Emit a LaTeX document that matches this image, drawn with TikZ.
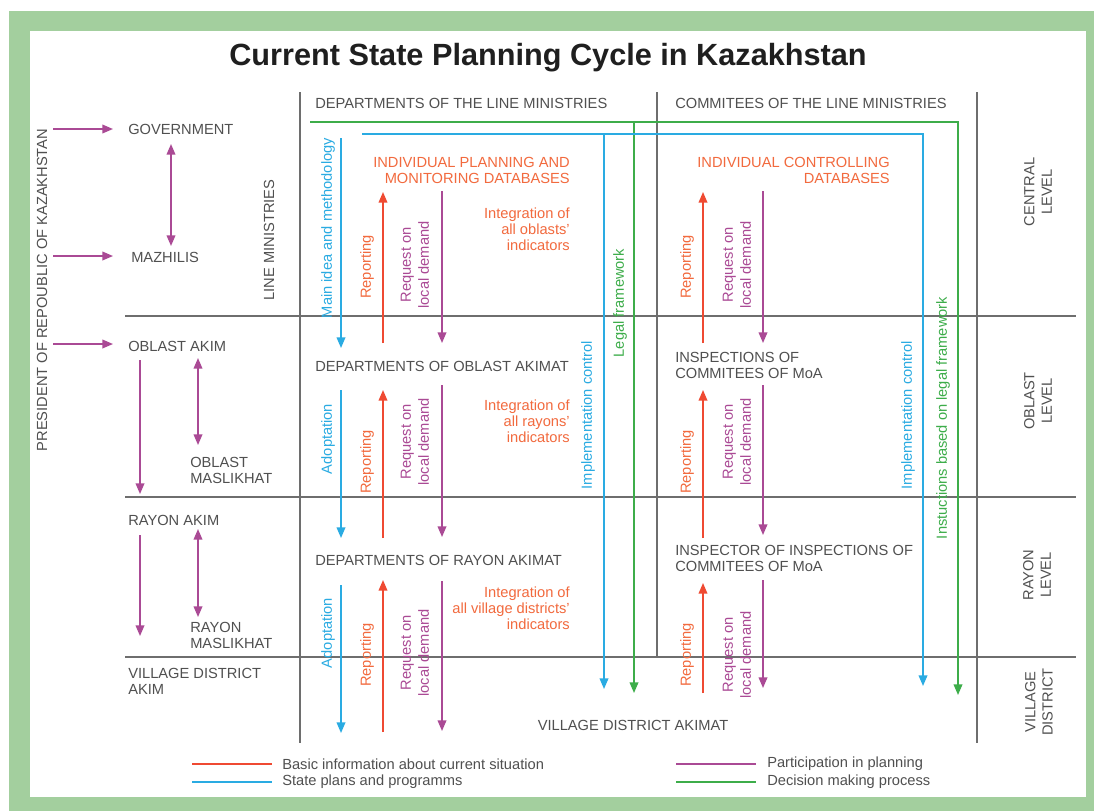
\documentclass[tikz,border=0pt]{standalone}
\usepackage{fontspec}
\setmainfont{Liberation Sans}
\usetikzlibrary{arrows.meta}
\definecolor{gframe}{HTML}{A3CF9E}
\definecolor{gline}{HTML}{6E6E6E}
\definecolor{gtext}{HTML}{505050}
\definecolor{cred}{HTML}{EF4A32}
\definecolor{ctxt}{HTML}{F26A3E}
\definecolor{cblue}{HTML}{2AABE2}
\definecolor{cgreen}{HTML}{3DAD4A}
\definecolor{cpurp}{HTML}{AA4A95}
\begin{document}
\begin{tikzpicture}[x=0.75pt,y=-0.75pt,
  txt/.style={inner sep=0pt, text=gtext, font=\fontsize{11}{12}\selectfont},
  rtxt/.style={txt, text=ctxt},
  btxt/.style={txt, text=cblue, rotate=90},
  gtxt/.style={txt, text=cgreen, rotate=90},
  ptxt/.style={txt, text=cpurp, rotate=90, align=center, font=\fontsize{11}{13.5}\selectfont},
  reptxt/.style={txt, text=ctxt, rotate=90},
  gridline/.style={draw=gline, line width=1.2pt},
  tip/.style={-{Triangle[length=8pt,width=6.5pt]}},
  dtip/.style={{Triangle[length=8pt,width=6.5pt]}-{Triangle[length=8pt,width=6.5pt]}},
  purpar/.style={draw=cpurp, line width=1.2pt},
  redar/.style={draw=cred, line width=1.2pt},
  bluear/.style={draw=cblue, line width=1.2pt},
  greenar/.style={draw=cgreen, line width=1.2pt},
]
\useasboundingbox (0,0) rectangle (1094,811);
% frame
\fill[white] (0,0) rectangle (1094,811);
\fill[gframe] (9,11) rectangle (1094,811);
\fill[white] (30,31) rectangle (1086,797);

% grid
\draw[gridline] (300,92) -- (300,743);
\draw[gridline] (657,92) -- (657,657);
\draw[gridline] (977,92) -- (977,743);
\draw[gridline] (125,316) -- (1076,316);
\draw[gridline] (125,497) -- (1076,497);
\draw[gridline] (125,657) -- (1076,657);

% title
\node[inner sep=0pt, text=black!88, font=\fontsize{23}{27}\selectfont\bfseries] (title) at (548,58) {Current State Planning Cycle in Kazakhstan};

% headers and left labels
\node[txt, anchor=west] (dlm) at (315,103) {DEPARTMENTS OF THE LINE MINISTRIES};
\node[txt, anchor=west] (clm) at (675,103) {COMMITEES OF THE LINE MINISTRIES};
\node[txt, anchor=west] (gov) at (128,129) {GOVERNMENT};
\node[txt, anchor=west] (maz) at (131,257) {MAZHILIS};
\node[txt, rotate=90] (lm) at (269,240) {LINE MINISTRIES};
\node[txt, rotate=90] (pres) at (42,290) {PRESIDENT OF REPOUBLIC OF KAZAKHSTAN};
\node[txt, anchor=west] (oak) at (128,346) {OBLAST AKIM};
\node[txt, anchor=west, align=left] (omas) at (190,470) {OBLAST\\MASLIKHAT};
\node[txt, anchor=west] (rak) at (128,520) {RAYON AKIM};
\node[txt, anchor=west, align=left] (rmas) at (190,635) {RAYON\\MASLIKHAT};
\node[txt, anchor=west, align=left] (vak) at (128,681) {VILLAGE DISTRICT\\AKIM};

% level labels
\node[txt, rotate=90, align=center, font=\fontsize{11}{13}\selectfont] (lc) at (1038,192) {CENTRAL\\LEVEL};
\node[txt, rotate=90, align=center, font=\fontsize{11}{13}\selectfont] (lo) at (1038,401) {OBLAST\\LEVEL};
\node[txt, rotate=90, align=center, font=\fontsize{11}{13}\selectfont] (lr) at (1037,575) {RAYON\\LEVEL};
\node[txt, rotate=90, align=center, font=\fontsize{11}{13}\selectfont] (lv) at (1039,702) {VILLAGE\\DISTRICT};

% central column texts
\node[rtxt, anchor=east, align=right] (ipm) at (570,170) {INDIVIDUAL PLANNING AND\\MONITORING DATABASES};
\node[rtxt, anchor=east, align=right] (int1) at (570,229) {Integration of\\all oblasts'\\indicators};
\node[txt, anchor=west] (doa) at (315,366) {DEPARTMENTS OF OBLAST AKIMAT};
\node[rtxt, anchor=east, align=right] (int2) at (570,421) {Integration of\\all rayons'\\indicators};
\node[txt, anchor=west] (dra) at (315,560) {DEPARTMENTS OF RAYON AKIMAT};
\node[rtxt, anchor=east, align=right] (int3) at (570,608) {Integration of\\all village districts'\\indicators};
\node[txt] (vda) at (633,725) {VILLAGE DISTRICT AKIMAT};

% right column texts
\node[rtxt, anchor=east, align=right] (icd) at (890,170) {INDIVIDUAL CONTROLLING\\DATABASES};
\node[txt, anchor=west, align=left] (ico) at (675,365) {INSPECTIONS OF\\COMMITEES OF MoA};
\node[txt, anchor=west, align=left] (iio) at (675,558) {INSPECTOR OF INSPECTIONS OF\\COMMITEES OF MoA};

% rotated arrow labels
\node[btxt] (lmain) at (328,228) {Main idea and methodology};
\node[btxt] (lad1) at (328,439) {Adoptation};
\node[btxt] (lad2) at (328,633) {Adoptation};
\node[reptxt] (lrep1) at (367,267) {Reporting};
\node[reptxt] (lrep2) at (367,462) {Reporting};
\node[reptxt] (lrep3) at (367,655) {Reporting};
\node[ptxt] (lreq1) at (415,265) {Request on\\local demand};
\node[ptxt] (lreq2) at (415,442) {Request on\\local demand};
\node[ptxt] (lreq3) at (415,653) {Request on\\local demand};
\node[btxt] (limp1) at (588,415) {Implementation control};
\node[btxt] (limp2) at (908,415) {Implementation control};
\node[gtxt] (llegal) at (620,303) {Legal framework};
\node[gtxt] (linst) at (943,418) {Instuctions based on legal framework};
\node[reptxt] (lrep4) at (687,267) {Reporting};
\node[reptxt] (lrep5) at (687,462) {Reporting};
\node[reptxt] (lrep6) at (687,655) {Reporting};
\node[ptxt] (lreq4) at (737,265) {Request on\\local demand};
\node[ptxt] (lreq5) at (737,442) {Request on\\local demand};
\node[ptxt] (lreq6) at (737,655) {Request on\\local demand};

% coordinates for connectors
\path (53,129) coordinate (pg0) (113,129) coordinate (pg1)
      (53,256) coordinate (pm0) (113,256) coordinate (pm1)
      (53,344) coordinate (po0) (113,344) coordinate (po1)
      (171,144) coordinate (gm0) (171,246) coordinate (gm1)
      (198,358) coordinate (om0) (198,445) coordinate (om1)
      (140,360) coordinate (od0) (140,494) coordinate (od1)
      (198,529) coordinate (rm0) (198,617) coordinate (rm1)
      (140,535) coordinate (rd0) (140,636) coordinate (rd1);
\path (310,122) coordinate (g0) (958,122) coordinate (g1) (958,695) coordinate (g2)
      (634,122) coordinate (gl0) (634,693) coordinate (gl1)
      (362,134) coordinate (b0) (923,134) coordinate (b1) (923,686) coordinate (b2)
      (604,134) coordinate (bi0) (604,689) coordinate (bi1)
      (341,138) coordinate (bm0) (341,348) coordinate (bm1)
      (341,390) coordinate (ba0) (341,538) coordinate (ba1)
      (341,585) coordinate (bb0) (341,733) coordinate (bb1);
\path (383,343) coordinate (r10) (383,192) coordinate (r11)
      (383,538) coordinate (r20) (383,390) coordinate (r21)
      (383,732) coordinate (r30) (383,580) coordinate (r31)
      (703,343) coordinate (r40) (703,192) coordinate (r41)
      (703,538) coordinate (r50) (703,390) coordinate (r51)
      (703,693) coordinate (r60) (703,583) coordinate (r61);
\path (442,191) coordinate (q10) (442,343) coordinate (q11)
      (442,385) coordinate (q20) (442,537) coordinate (q21)
      (442,581) coordinate (q30) (442,731) coordinate (q31)
      (763,191) coordinate (q40) (763,343) coordinate (q41)
      (763,385) coordinate (q50) (763,535) coordinate (q51)
      (763,580) coordinate (q60) (763,688) coordinate (q61);

% left purple arrows
\draw[purpar, tip] (pg0) -- (pg1);
\draw[purpar, tip] (pm0) -- (pm1);
\draw[purpar, tip] (po0) -- (po1);
\draw[purpar, dtip] (gm0) -- (gm1);
\draw[purpar, dtip] (om0) -- (om1);
\draw[purpar, tip] (od0) -- (od1);
\draw[purpar, dtip] (rm0) -- (rm1);
\draw[purpar, tip] (rd0) -- (rd1);

% green and blue framework lines
\draw[greenar, tip] (g0) -- (g1) -- (g2);
\draw[greenar, tip] (gl0) -- (gl1);
\draw[bluear, tip] (b0) -- (b1) -- (b2);
\draw[bluear, tip] (bi0) -- (bi1);
\draw[bluear, tip] (bm0) -- (bm1);
\draw[bluear, tip] (ba0) -- (ba1);
\draw[bluear, tip] (bb0) -- (bb1);

% reporting arrows
\draw[redar, tip] (r10) -- (r11);
\draw[redar, tip] (r20) -- (r21);
\draw[redar, tip] (r30) -- (r31);
\draw[redar, tip] (r40) -- (r41);
\draw[redar, tip] (r50) -- (r51);
\draw[redar, tip] (r60) -- (r61);

% request arrows
\draw[purpar, tip] (q10) -- (q11);
\draw[purpar, tip] (q20) -- (q21);
\draw[purpar, tip] (q30) -- (q31);
\draw[purpar, tip] (q40) -- (q41);
\draw[purpar, tip] (q50) -- (q51);
\draw[purpar, tip] (q60) -- (q61);

% legend
\path (192,764) coordinate (k10) (272,764) coordinate (k11)
      (192,782) coordinate (k20) (272,782) coordinate (k21)
      (676,764) coordinate (k30) (756,764) coordinate (k31)
      (676,782) coordinate (k40) (756,782) coordinate (k41);
\draw[redar] (k10) -- (k11);
\draw[bluear] (k20) -- (k21);
\draw[purpar] (k30) -- (k31);
\draw[greenar] (k40) -- (k41);
\node[txt, anchor=west] (leg1) at (282,764) {Basic information about current situation};
\node[txt, anchor=west] (leg2) at (282,782) {State plans and programms};
\node[txt, anchor=west] (leg3) at (767,764) {Participation in planning};
\node[txt, anchor=west] (leg4) at (767,782) {Decision making process};
\end{tikzpicture}
\end{document}
